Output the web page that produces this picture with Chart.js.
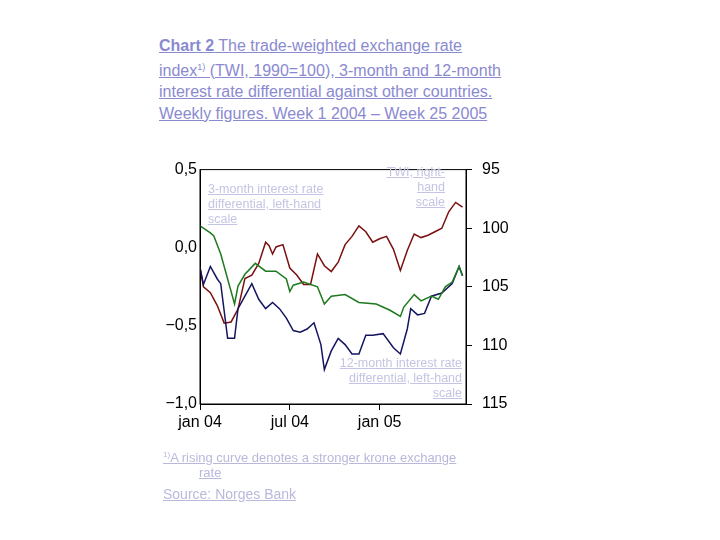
<!DOCTYPE html>
<html><head><meta charset="utf-8">
<script src="https://cdn.jsdelivr.net/npm/chart.js@4"></script>
<style>
body{margin:0;width:720px;height:540px;background:#fff;font-family:"Liberation Sans",Arial,sans-serif;position:relative;overflow:hidden}
.t{position:absolute;left:159px;top:35px;width:350px;color:#8a8ad0;font-size:16px;line-height:21.5px;text-decoration:underline}
.a{position:absolute;color:#c4c4e4;font-size:12.5px;line-height:15px;text-decoration:underline}
#wrap{position:absolute;left:150px;top:150px;width:370px;height:300px}
</style></head><body>
<div class="t"><b>Chart 2</b> The trade-weighted exchange rate index<sup style="font-size:9px">1)</sup> (TWI, 1990=100), 3-month and 12-month interest rate differential against other countries. Weekly figures. Week 1 2004 – Week 25 2005</div>
<div id="wrap"><canvas id="c"></canvas></div>
<div class="a" style="left:208px;top:182px">3-month interest rate<br>differential, left-hand<br>scale</div>
<div class="a" style="left:370px;top:165px;width:75px;text-align:right">TWI, right-<br>hand<br>scale</div>
<div class="a" style="left:300px;top:356px;width:162px;text-align:right">12-month interest rate<br>differential, left-hand<br>scale</div>
<div class="a" style="left:163px;top:447px;color:#b8b8dc;font-size:13px"><sup style="font-size:8px">1)</sup>A rising curve denotes a stronger krone exchange<br><span style="margin-left:36px">rate</span></div>
<div class="a" style="left:163px;top:487px;font-size:14px;color:#b8b8dc">Source: Norges Bank</div>
<script>
const tickWeeks=[0,26,52];
const tickLabels=["jan 04","jul 04","jan 05"];
const w3=[0,3,4,6,8,10,11,13,16,19,22,25,26,27,30,34,36,38,42,46,51,55,58,59,62,64,67,69,71,73,75,76];
const v3=[0.14,0.095,0.075,-0.04,-0.2,-0.36,-0.245,-0.17,-0.1,-0.15,-0.15,-0.2,-0.28,-0.24,-0.22,-0.25,-0.36,-0.31,-0.30,-0.35,-0.36,-0.40,-0.44,-0.38,-0.30,-0.34,-0.31,-0.33,-0.25,-0.22,-0.12,-0.18];
const w12=[0,1,3,5,6,8,10,11,13,15,17,19,21,23,25,27,29,31,33,35,36,38,40,42,44,46,48,50,53,56,58,60,61,63,65,67,70,73,75,76];
const v12=[-0.13,-0.235,-0.12,-0.2,-0.23,-0.58,-0.58,-0.39,-0.31,-0.23,-0.33,-0.39,-0.35,-0.39,-0.45,-0.53,-0.54,-0.52,-0.48,-0.62,-0.78,-0.66,-0.58,-0.62,-0.68,-0.68,-0.56,-0.56,-0.55,-0.64,-0.68,-0.52,-0.39,-0.43,-0.42,-0.31,-0.29,-0.23,-0.12,-0.18];
const wT=[0,1,3,5,7,9,11,13,15,17,19,20,21,22,24,26,28,30,32,34,36,38,40,42,44,46,48,50,52,54,56,58,60,62,64,66,68,70,72,74,76];
const vT=[103.3,105,105.5,106.6,108.1,108,106.9,104.3,104,103,101.2,101.5,102.2,101.6,101.4,103.4,104,104.8,104.8,102.2,103.2,103.7,102.9,101.4,100.7,99.8,100.3,101.2,100.9,100.7,101.8,103.6,101.9,100.5,100.8,100.6,100.3,100,98.6,97.8,98.2];
const pts=(w,v)=>w.map((x,i)=>({x:x,y:v[i]}));
const F={family:"Liberation Sans",size:16};
new Chart(document.getElementById('c'),{type:'line',
data:{datasets:[
{data:pts(w3,v3),borderColor:'#1e7a1e',borderWidth:1.5,yAxisID:'y',pointRadius:0,tension:0},
{data:pts(w12,v12),borderColor:'#141460',borderWidth:1.5,yAxisID:'y',pointRadius:0,tension:0},
{data:pts(wT,vT),borderColor:'#7a1010',borderWidth:1.5,yAxisID:'y2',pointRadius:0,tension:0}]},
options:{responsive:true,maintainAspectRatio:false,animation:false,
layout:{padding:{top:5,left:0,right:0,bottom:0}},
plugins:{legend:{display:false},tooltip:{enabled:false}},
scales:{
x:{type:'linear',min:0,max:77,afterFit:s=>{s.height=46},
afterBuildTicks:s=>{s.ticks=tickWeeks.map(v=>({value:v}))},
ticks:{color:'#000',font:F,maxRotation:0,callback:(v)=>tickLabels[tickWeeks.indexOf(v)]},
grid:{drawOnChartArea:false,tickLength:6,color:'#000'},border:{color:'#000'}},
y:{min:-1,max:0.5,afterFit:s=>{s.width=50},
afterBuildTicks:s=>{s.ticks=[-1,-0.5,0,0.5].map(v=>({value:v}))},
ticks:{color:'#000',font:F,callback:v=>(v<0?'−':'')+Math.abs(v).toFixed(1).replace('.',',')},
grid:{drawOnChartArea:false,drawTicks:false},border:{color:'#000'}},
y2:{position:'right',reverse:true,min:95,max:115,afterFit:s=>{s.width=54},
afterBuildTicks:s=>{s.ticks=[95,100,105,110,115].map(v=>({value:v}))},
ticks:{color:'#000',font:F,padding:10},
grid:{drawOnChartArea:false,tickLength:6,color:'#000'},border:{color:'#000'}}}},
plugins:[{id:'box',afterDraw(c){const a=c.chartArea,x=c.ctx;x.save();x.strokeStyle='#000';x.lineWidth=1;x.strokeRect(a.left,a.top,a.right-a.left,a.bottom-a.top);x.restore();}}]
});
</script></body></html>
